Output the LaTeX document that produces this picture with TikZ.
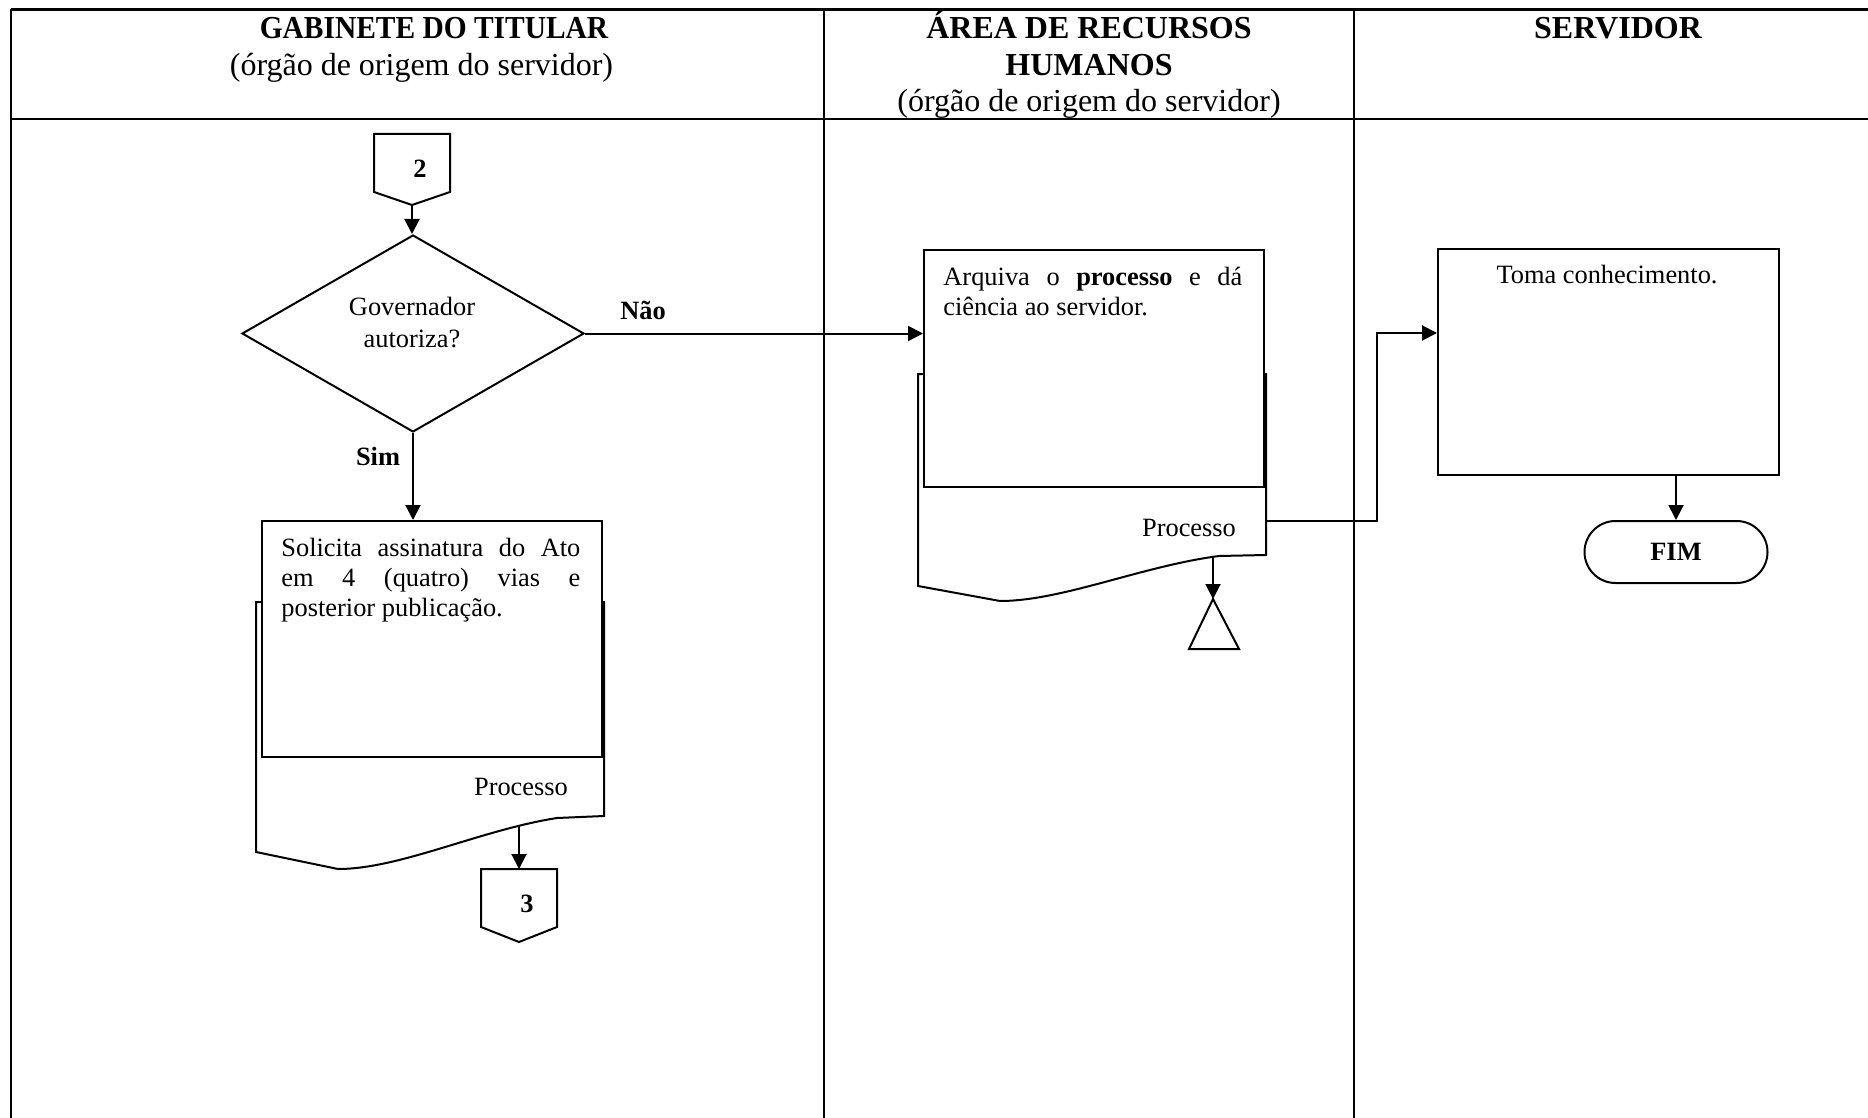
\documentclass[tikz,border=0pt]{standalone}
\usepackage{fontspec}
\setmainfont{Liberation Serif}
\usetikzlibrary{arrows.meta,shapes.geometric}
\begin{document}
\begin{tikzpicture}[x=0.5pt,y=-0.5pt,
  gridline/.style={line width=0.9pt},
  headline/.style={line width=1.2pt},
  outline/.style={line width=1pt},
  flow/.style={line width=1pt,-{Triangle[length=7.5pt,width=7.5pt]}},
  head/.style={font=\fontsize{16}{18.5}\selectfont,anchor=base,inner sep=0pt},
  body/.style={font=\fontsize{13.2}{15}\selectfont,inner sep=0pt},
  bodybase/.style={body,anchor=base},
  para/.style={body,anchor=north west,text width=149.5pt,align=justify},
  taskbox/.style={draw,line width=1pt,fill=white,anchor=north west,inner sep=0pt},
]
\useasboundingbox (0,0) rectangle (1868,1118);

% swimlane grid
\draw[headline] (11,9.5) -- (1868,9.5);
\draw[headline] (11,119) -- (1868,119);
\draw[gridline] (11,9.5) -- (11,1118);
\draw[gridline] (824,9.5) -- (824,1118);
\draw[gridline] (1354,9.5) -- (1354,1118);

% lane titles
\node[head] (h1a) at (434,39) {\scalebox{0.92}[1]{\bfseries GABINETE DO TITULAR}};
\node[head] (h1b) at (421.5,75.5) {(órgão de origem do servidor)};
\node[head] (h2a) at (1089,39) {\bfseries ÁREA DE RECURSOS};
\node[head] (h2b) at (1089,75.5) {\bfseries HUMANOS};
\node[head] (h2c) at (1089,112) {(órgão de origem do servidor)};
\node[head] (h3a) at (1618,39) {\bfseries SERVIDOR};

% off-page connector 2
\draw[outline,fill=white] (374,134) -- (450,134) -- (450,192) -- (412,205) -- (374,192) -- cycle;
\node[bodybase] (c2) at (420,178) {\bfseries 2};
\coordinate (c2tip) at (412,205);

% decision
\node[draw,line width=1pt,diamond,minimum width=171pt,minimum height=98.5pt,inner sep=0pt] (dec) at (413,333.5) {};
\node[bodybase] (dect1) at (412,315) {Governador};
\node[bodybase] (dect2) at (412,347) {autoriza?};

% document: Solicita
\begin{scope}[shift={(256,852)}]
  \draw[outline,fill=white] (0,-250) -- (0,0) -- (82,17)
    .. controls (144,17) and (224,-22) .. (301,-34) -- (348,-36) -- (348,-250) -- cycle;
\end{scope}
\node[taskbox,minimum width=170pt,minimum height=118pt] (sol) at (261,520) {};
\node[para] (soltxt) at (281,538) {Solicita assinatura do Ato\linebreak em 4 (quatro) vias e\linebreak posterior publicação.};
\node[bodybase] (solproc) at (521,795) {Processo};
\coordinate (solwave) at (519,826);

% off-page connector 3
\draw[outline,fill=white] (481,869) -- (557,869) -- (557,927) -- (519,942) -- (481,927) -- cycle;
\node[bodybase] (c3) at (527,912) {\bfseries 3};
\coordinate (c3top) at (519,869);

% document: Arquiva
\begin{scope}[shift={(918,586)}]
  \draw[outline,fill=white] (0,-212) -- (0,0) -- (82,15)
    .. controls (144,15) and (224,-20) .. (301,-30) -- (348,-31) -- (348,-212) -- cycle;
\end{scope}
\node[taskbox,minimum width=170pt,minimum height=118.5pt] (arq) at (923,249) {};
\node[para] (arqtxt) at (943,267) {Arquiva o \textbf{processo} e dá\linebreak ciência ao servidor.};
\node[bodybase] (arqproc) at (1189,536) {Processo};
\coordinate (arqwave) at (1213,556);
\coordinate (arqout) at (1266,521);

% archive symbol
\draw[outline] (1213,599) -- (1189,649) -- (1239,649) -- cycle;
\coordinate (arch) at (1213,599);

% Toma conhecimento
\node[taskbox,minimum width=170.5pt,minimum height=113pt] (toma) at (1437,248) {};
\node[bodybase] (tomatxt) at (1607,284) {Toma conhecimento.};
\coordinate (bend) at (1377,521);
\coordinate (tomain) at (1437,333);

% terminator
\node[draw,line width=1pt,rounded corners=15.5pt,minimum width=91.5pt,minimum height=31pt,inner sep=0pt,
      font=\fontsize{13.2}{15}\selectfont\bfseries] (fim) at (1676,552) {FIM};

% connectors
\draw[flow] (c2tip) -- (c2tip |- dec.north);
\draw[flow] (dec.south) -- (dec.south |- sol.north);
\node[bodybase] (sim) at (378,465) {\bfseries Sim};
\draw[flow] (dec.east) -- (dec.east -| arq.west);
\node[bodybase] (nao) at (643,320) {\bfseries Não};
\draw[flow] (solwave) -- (c3top);
\draw[flow] (arqwave) -- (arch);
\draw[flow] (arqout) -- (bend) |- (tomain);
\draw[flow] (fim.north |- toma.south) -- (fim.north);
\end{tikzpicture}
\end{document}
